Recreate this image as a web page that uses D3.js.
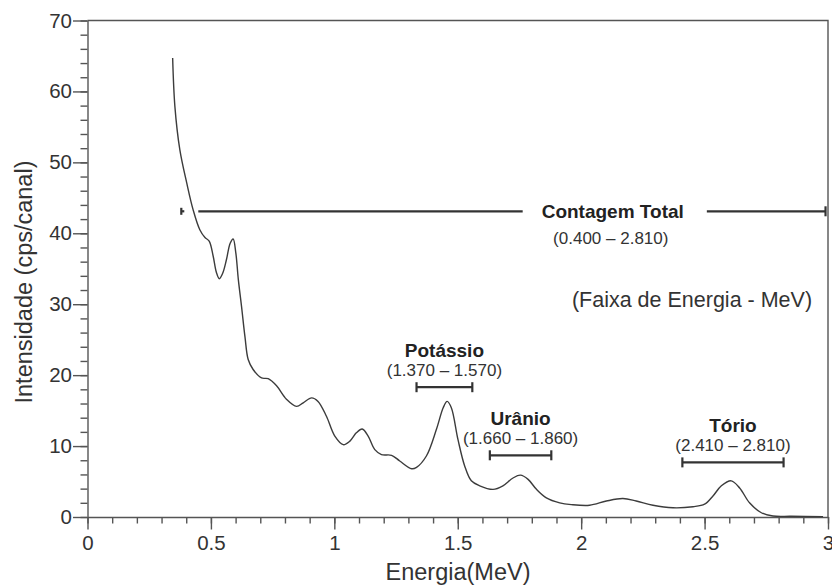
<!DOCTYPE html>
<html>
<head>
<meta charset="utf-8">
<script src="https://cdn.jsdelivr.net/npm/d3@7"></script>
<style>
  body { margin: 0; background: #fff; }
  svg { display: block; font-family: "Liberation Sans", Arial, sans-serif; }
  .axis text { fill: #333; font-size: 20.5px; }
  .axis path, .axis line { stroke: #555; stroke-width: 1.4; }
  .frame { stroke: #555; stroke-width: 1.4; fill: none; }
  .spectrum { fill: none; stroke: #3c3c3c; stroke-width: 1.4; }
  .bar { stroke: #333; stroke-width: 2.2; }
  .title { fill: #222; font-weight: bold; font-size: 19px; }
  .range { fill: #333; font-size: 17px; }
</style>
</head>
<body>
<svg width="832" height="586"></svg>
<script>
// spectrum: energy (MeV) and intensity (cps/canal)
var energy = [0.345, 0.354, 0.374, 0.402, 0.428, 0.455, 0.476, 0.493, 0.509, 0.522,
    0.534, 0.548, 0.563, 0.578, 0.590, 0.601, 0.611, 0.624, 0.638, 0.651,
    0.671, 0.705, 0.732, 0.766, 0.806, 0.847, 0.874, 0.908, 0.934, 0.968,
    1.002, 1.036, 1.063, 1.090, 1.113, 1.137, 1.164, 1.191, 1.232, 1.265,
    1.313, 1.333, 1.373, 1.414, 1.441, 1.457, 1.474, 1.501, 1.528, 1.555,
    1.589, 1.643, 1.683, 1.724, 1.754, 1.785, 1.819, 1.859, 1.913, 1.960,
    2.034, 2.102, 2.169, 2.223, 2.291, 2.372, 2.453, 2.500, 2.534, 2.568,
    2.608, 2.642, 2.682, 2.730, 2.777, 2.850, 2.980];
var intensity = [64.7, 57.9, 51.8, 47.1, 43.3, 40.5, 39.4, 38.9, 36.8, 34.5,
    33.6, 34.4, 36.3, 38.6, 39.2, 37.2, 33.5, 29.7, 25.4, 22.2,
    20.8, 19.6, 19.5, 18.5, 16.6, 15.6, 16.1, 16.8, 16.3, 14.2,
    11.4, 10.2, 10.7, 11.9, 12.4, 11.4, 9.5, 8.8, 8.7, 7.9,
    6.8, 7.0, 8.6, 12.4, 15.4, 16.3, 15.4, 10.9, 7.2, 5.1,
    4.4, 3.9, 4.4, 5.5, 5.9, 5.3, 3.9, 2.7, 2.0, 1.75,
    1.65, 2.25, 2.6, 2.25, 1.65, 1.3, 1.45, 1.8, 2.96, 4.4,
    5.1, 4.1, 2.0, 0.6, 0.14, 0.1, 0.05];

var xTicks = [0, 0.5, 1, 1.5, 2, 2.5, 3];
var yTicks = [0, 10, 20, 30, 40, 50, 60, 70];

// energy windows
var windowNames = ['Potássio', 'Urânio', 'Tório'];
var windowLabels = ['(1.370 – 1.570)', '(1.660 – 1.860)', '(2.410 – 2.810)'];
var windowBars = [[1.333, 1.559], [1.630, 1.879], [2.410, 2.820]];
var windowLevels = [18.3, 8.7, 7.7];

var totalName = 'Contagem Total';
var totalLabel = '(0.400 – 2.810)';
var totalBar = [0.38, 2.99];
var totalLevel = 43.1;
var totalTextAt = 2.128;

var svg = d3.select('svg');
var margin = {left: 87.5, right: 4, top: 20.5, bottom: 69};
var W = +svg.attr('width'), H = +svg.attr('height');

var x = d3.scaleLinear().domain([0, 3]).range([margin.left, W - margin.right]);
var y = d3.scaleLinear().domain([0, 70]).range([H - margin.bottom, margin.top]);

// frame (top + right)
svg.append('path').attr('class', 'frame')
    .attr('d', 'M' + x(0) + ',' + y(70) + 'H' + x(3) + 'V' + y(0));

// minor ticks
svg.append('g').attr('class', 'axis')
    .attr('transform', 'translate(0,' + y(0) + ')')
    .call(d3.axisBottom(x).tickValues(d3.range(0, 31).map(function(d) {return d/10;}))
        .tickSize(6.5).tickFormat(''))
    .call(function(g) {g.select('.domain').remove();});
svg.append('g').attr('class', 'axis')
    .attr('transform', 'translate(' + x(0) + ',0)')
    .call(d3.axisLeft(y).tickValues(d3.range(0, 71, 2)).tickSize(7).tickFormat(''))
    .call(function(g) {g.select('.domain').remove();});

// major ticks
svg.append('g').attr('class', 'axis')
    .attr('transform', 'translate(0,' + y(0) + ')')
    .call(d3.axisBottom(x).tickValues(xTicks).tickSize(12.5).tickPadding(6).tickSizeOuter(0)
        .tickFormat(function(d) {return d3.format('')(d);}));
svg.append('g').attr('class', 'axis')
    .attr('transform', 'translate(' + x(0) + ',0)')
    .call(d3.axisLeft(y).tickValues(yTicks).tickSize(14.5).tickPadding(1).tickSizeOuter(0));

// axis titles
svg.append('text')
    .attr('x', 458).attr('y', 580)
    .attr('text-anchor', 'middle')
    .style('font-size', '23.5px').style('fill', '#333')
    .text('Energia(MeV)');
svg.append('text')
    .attr('transform', 'translate(32,282) rotate(-90)')
    .attr('text-anchor', 'middle')
    .style('font-size', '23.5px').style('fill', '#333')
    .text('Intensidade (cps/canal)');

// spectrum
var line = d3.line()
    .curve(d3.curveCatmullRom.alpha(0.5))
    .x(function(d) {return x(d[0]);})
    .y(function(d) {return y(d[1]);});
svg.append('path').attr('class', 'spectrum')
    .attr('d', line(d3.zip(energy, intensity)));

// total count bar
var ty = y(totalLevel);
var title = svg.append('text').attr('class', 'title')
    .attr('x', x(totalTextAt)).attr('y', ty)
    .attr('text-anchor', 'middle').attr('dominant-baseline', 'central')
    .text(totalName);
var half = title.node().getComputedTextLength() / 2;
svg.append('text').attr('class', 'range')
    .attr('x', x(totalTextAt) - 2).attr('y', ty + 27)
    .attr('text-anchor', 'middle').attr('dominant-baseline', 'central')
    .text(totalLabel);
svg.append('line').attr('class', 'bar')
    .attr('x1', x(totalBar[0]) + 17).attr('x2', x(totalTextAt) - half - 19)
    .attr('y1', ty).attr('y2', ty);
svg.append('line').attr('class', 'bar')
    .attr('x1', x(totalTextAt) + half + 23).attr('x2', x(totalBar[1]))
    .attr('y1', ty).attr('y2', ty);
svg.append('line').attr('class', 'bar')
    .attr('x1', x(totalBar[1])).attr('x2', x(totalBar[1]))
    .attr('y1', ty - 5).attr('y2', ty + 5);
svg.append('line').attr('class', 'bar')
    .attr('x1', x(totalBar[0])).attr('x2', x(totalBar[0]))
    .attr('y1', ty - 3.5).attr('y2', ty + 3.5);
svg.append('line').attr('class', 'bar')
    .attr('x1', x(totalBar[0])).attr('x2', x(totalBar[0]) + 3)
    .attr('y1', ty).attr('y2', ty);

// energy windows
var win = svg.selectAll('.win')
    .data(windowNames.map(function(n, i) {
        return {name: n, label: windowLabels[i], bar: windowBars[i], level: windowLevels[i]};
    }))
    .enter().append('g').attr('class', 'win');
win.append('line').attr('class', 'bar')
    .attr('x1', function(d) {return x(d.bar[0]);})
    .attr('x2', function(d) {return x(d.bar[1]);})
    .attr('y1', function(d) {return y(d.level);})
    .attr('y2', function(d) {return y(d.level);});
win.selectAll('.end')
    .data(function(d) {return d.bar.map(function(b) {return [b, d.level];});})
    .enter().append('line').attr('class', 'bar end')
    .attr('x1', function(d) {return x(d[0]);})
    .attr('x2', function(d) {return x(d[0]);})
    .attr('y1', function(d) {return y(d[1]) - 5;})
    .attr('y2', function(d) {return y(d[1]) + 5;});
win.append('text').attr('class', 'title')
    .attr('x', function(d) {return x((d.bar[0] + d.bar[1]) / 2);})
    .attr('y', function(d) {return y(d.level) - 37;})
    .attr('text-anchor', 'middle').attr('dominant-baseline', 'central')
    .text(function(d) {return d.name;});
win.append('text').attr('class', 'range')
    .attr('x', function(d) {return x((d.bar[0] + d.bar[1]) / 2);})
    .attr('y', function(d) {return y(d.level) - 17;})
    .attr('text-anchor', 'middle').attr('dominant-baseline', 'central')
    .text(function(d) {return d.label;});

svg.append('text')
    .attr('x', 692).attr('y', 300)
    .attr('text-anchor', 'middle').attr('dominant-baseline', 'central')
    .style('font-size', '21.5px').style('fill', '#333')
    .text('(Faixa de Energia - MeV)');
</script>
</body>
</html>
